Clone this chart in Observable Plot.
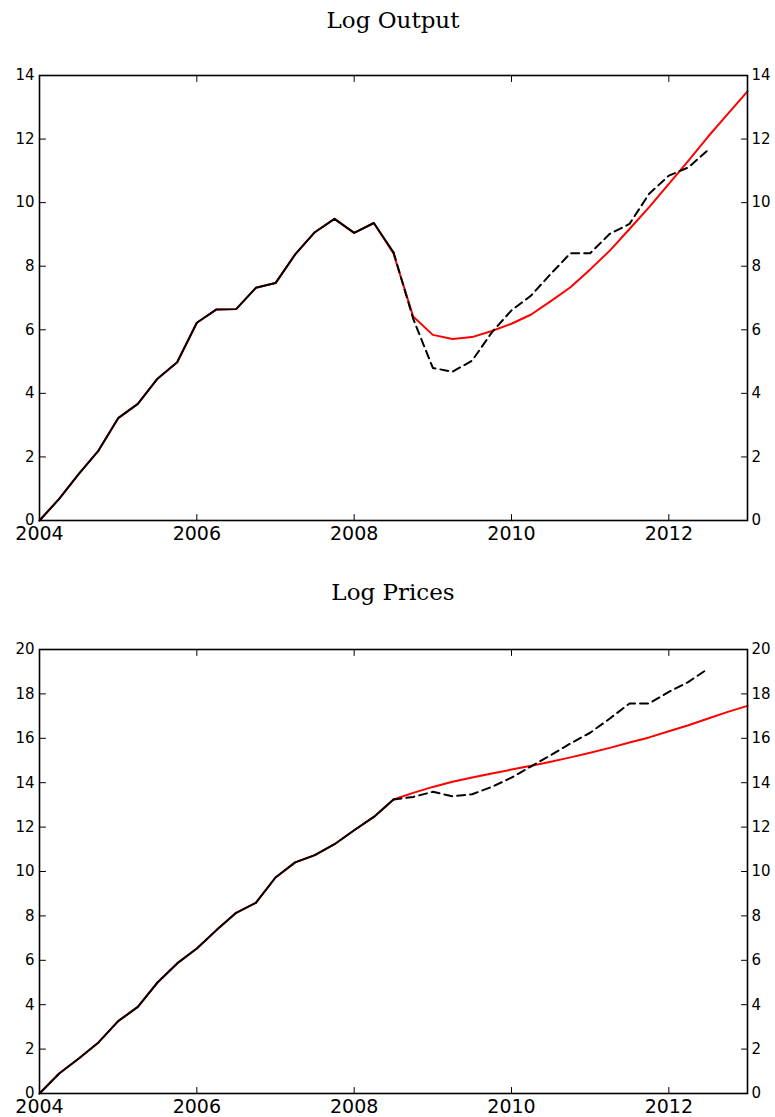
<!DOCTYPE html>
<html><head><meta charset="utf-8">
<script src="https://cdn.jsdelivr.net/npm/d3@7"></script>
<script src="https://cdn.jsdelivr.net/npm/@observablehq/plot@0.6"></script>
<style>
body{margin:0;background:#fff;}
#wrap{position:relative;width:775px;height:1117px;background:#fff;}
.title{position:absolute;left:39px;width:708px;text-align:center;font-family:"DejaVu Serif",serif;font-size:23px;line-height:23px;color:#000;}
.chart{position:absolute;left:0;}
</style></head><body>
<div id="wrap">
<div class="title" style="top:9px">Log Output</div>
<div class="chart" id="c1" style="top:45px"></div>
<div class="title" style="top:581px">Log Prices</div>
<div class="chart" id="c2" style="top:619px"></div>
</div>
<script>
// Quarterly dates
const quarters = [
  2004, 2004.25, 2004.5, 2004.75, 2005, 2005.25, 2005.5, 2005.75,
  2006, 2006.25, 2006.5, 2006.75, 2007, 2007.25, 2007.5, 2007.75,
  2008, 2008.25, 2008.5, 2008.75, 2009, 2009.25, 2009.5, 2009.75,
  2010, 2010.25, 2010.5, 2010.75, 2011, 2011.25, 2011.5, 2011.75,
  2012, 2012.25, 2012.5, 2012.75, 2013
];
const splitDate = 2008.5;

// Log Output: actual (black; solid up to 2008.5, dashed after)
const outputActual = [
  0, 0.68, 1.47, 2.20, 3.22, 3.67, 4.46, 4.98,
  6.22, 6.64, 6.65, 7.32, 7.47, 8.37, 9.07, 9.49,
  9.05, 9.36, 8.44, 6.35, 4.80, 4.68, 5.03, 5.92,
  6.61, 7.08, 7.76, 8.41, 8.41, 9.02, 9.33, 10.28,
  10.85, 11.11, 11.66
];
// Log Output: model path (red)
const outputModel = [
  0, 0.68, 1.47, 2.20, 3.22, 3.67, 4.46, 4.98,
  6.22, 6.64, 6.65, 7.32, 7.47, 8.37, 9.07, 9.49,
  9.05, 9.36, 8.40, 6.42, 5.84, 5.71, 5.77, 5.96,
  6.19, 6.48, 6.90, 7.34, 7.90, 8.49, 9.17, 9.86,
  10.59, 11.32, 12.08, 12.79, 13.50
];

// Log Prices: actual
const pricesActual = [
  0, 0.90, 1.58, 2.30, 3.26, 3.90, 5.00, 5.86,
  6.53, 7.36, 8.14, 8.59, 9.73, 10.41, 10.74, 11.23,
  11.86, 12.46, 13.24, 13.36, 13.59, 13.39, 13.48, 13.81,
  14.23, 14.74, 15.24, 15.77, 16.25, 16.89, 17.57, 17.57,
  18.09, 18.54, 19.14
];
// Log Prices: model path
const pricesModel = [
  0, 0.90, 1.58, 2.30, 3.26, 3.90, 5.00, 5.86,
  6.53, 7.36, 8.14, 8.59, 9.73, 10.41, 10.74, 11.23,
  11.86, 12.46, 13.24, 13.54, 13.81, 14.04, 14.23, 14.41,
  14.59, 14.76, 14.94, 15.14, 15.35, 15.57, 15.81, 16.04,
  16.32, 16.59, 16.89, 17.19, 17.46
];

const xDomain = [2004, 2013];
const xTicks = [2004, 2006, 2008, 2010, 2012];
const outputTicks = [0, 2, 4, 6, 8, 10, 12, 14];
const pricesTicks = [0, 2, 4, 6, 8, 10, 12, 14, 16, 18, 20];

function rows(values) { return values.map((v, i) => ({date: quarters[i], value: v})); }

const tickShape = {draw(ctx, l) { ctx.moveTo(0, 0); ctx.lineTo(0, -l); }};

function chart(actual, model, yTicks, marginBottom, height) {
  const act = rows(actual), mod = rows(model);
  const hist = act.filter(d => d.date <= splitDate);
  const post = act.filter(d => d.date >= splitDate);
  const yMax = yTicks[yTicks.length - 1];
  const tk = {length: 6, anchor: "start", shape: tickShape, stroke: "black", strokeWidth: 1};
  return Plot.plot({
    width: 775, height, marginLeft: 39, marginRight: 28, marginTop: 30, marginBottom,
    x: {domain: xDomain, label: null},
    y: {domain: [0, yMax], label: null},
    style: {fontFamily: "'DejaVu Sans', sans-serif", background: "white", color: "black"},
    marks: [
      Plot.line(mod, {x: "date", y: "value", stroke: "red", strokeWidth: 2}),
      Plot.line(hist, {x: "date", y: "value", stroke: "black", strokeWidth: 2}),
      Plot.line(post, {x: "date", y: "value", stroke: "black", strokeWidth: 2, strokeDasharray: "8,5"}),
      Plot.vector(xTicks, {x: d => d, frameAnchor: "bottom", rotate: 0, ...tk}),
      Plot.vector(xTicks, {x: d => d, frameAnchor: "top", rotate: 180, ...tk}),
      Plot.vector(yTicks, {y: d => d, frameAnchor: "left", rotate: 90, ...tk}),
      Plot.vector(yTicks, {y: d => d, frameAnchor: "right", rotate: -90, ...tk}),
      Plot.frame({stroke: "black", strokeWidth: 1.6}),
      Plot.axisX({ticks: xTicks, tickSize: 0, tickPadding: 6, tickFormat: d => String(d), fontSize: 19, label: null}),
      Plot.axisY({anchor: "left", ticks: yTicks, tickSize: 0, tickPadding: 5, fontSize: 15, label: null}),
      Plot.axisY({anchor: "right", ticks: yTicks, tickSize: 0, tickPadding: 4, fontSize: 15, label: null})
    ]
  });
}

document.getElementById("c1").append(chart(outputActual, outputModel, outputTicks, 30, 505));
document.getElementById("c2").append(chart(pricesActual, pricesModel, pricesTicks, 24, 498));
</script>
</body></html>
